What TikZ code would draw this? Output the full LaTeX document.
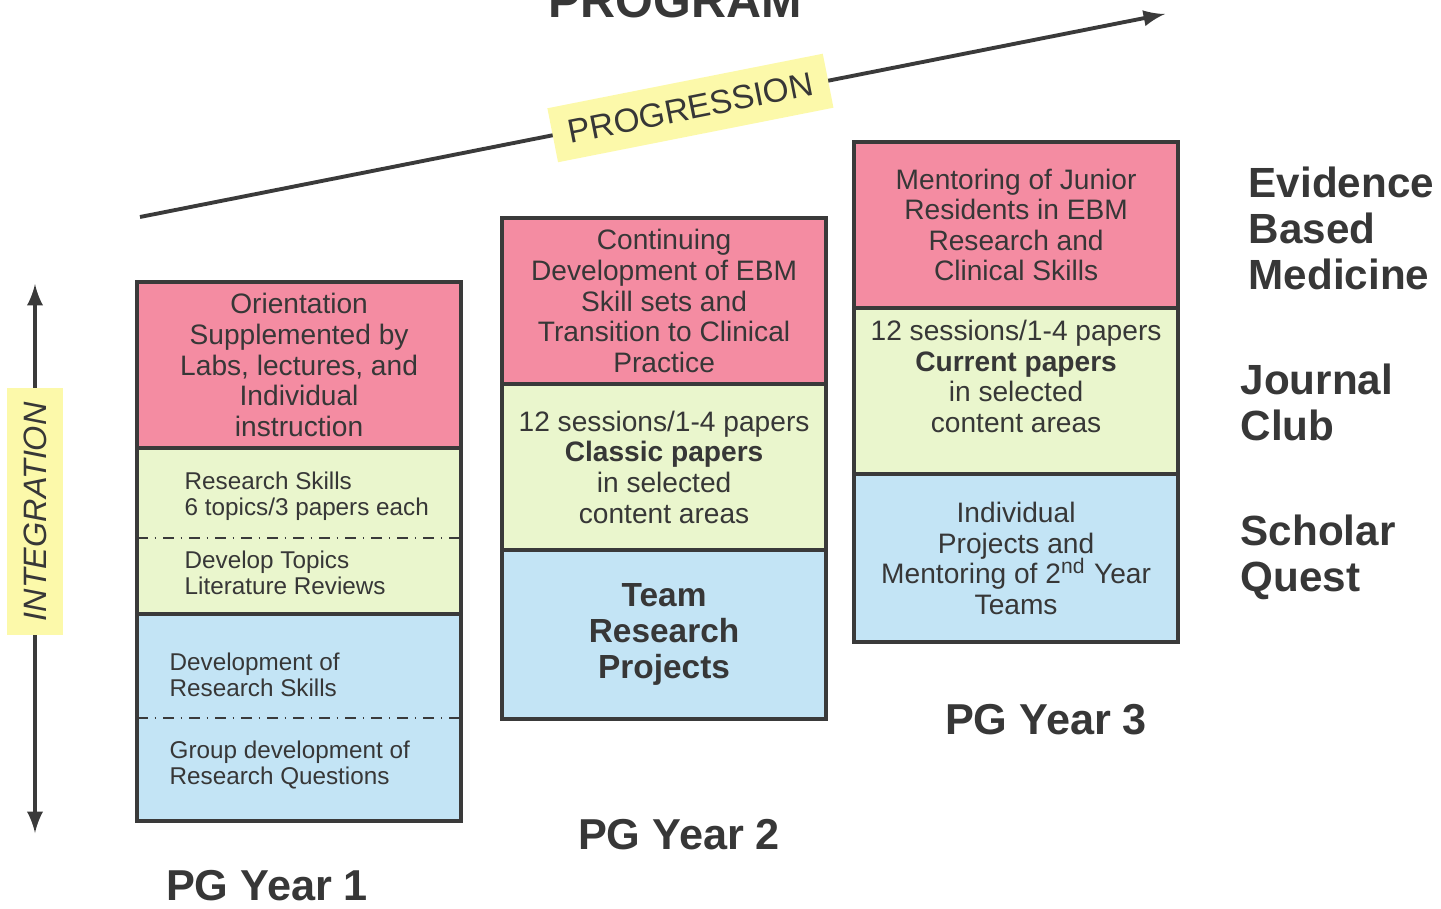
\documentclass[tikz,border=0pt]{standalone}
\usepackage{fontspec}
\setmainfont{Liberation Sans}
\usetikzlibrary{arrows.meta,positioning}
\tikzset{>=latex}
\definecolor{ebmpink}{RGB}{244,140,162}
\definecolor{jcgreen}{RGB}{234,246,205}
\definecolor{sqblue}{RGB}{195,228,245}
\definecolor{tagyellow}{RGB}{252,249,170}
\definecolor{framegray}{RGB}{58,58,58}
\definecolor{inkgray}{RGB}{55,55,55}

\begin{document}
\begin{tikzpicture}[x=0.01cm,y=-0.01cm,
    cell/.style={draw=framegray,line width=1.2pt,minimum width=3.24cm,minimum height=1.66cm,
      outer sep=0pt,inner sep=2pt,align=center,text=inkgray,font=\fontsize{8}{8.7}\selectfont},
    note/.style={anchor=west,align=left,inner sep=0pt,text=inkgray,font=\fontsize{6.9}{7.4}\selectfont},
    stream/.style={anchor=west,align=left,inner sep=0pt,text=inkgray,font=\bfseries\fontsize{12}{13.1}\selectfont},
    yearlbl/.style={inner sep=0pt,text=inkgray,font=\bfseries\fontsize{12.3}{14}\selectfont},
    tag/.style={fill=tagyellow,text=inkgray,inner xsep=0.16cm,minimum height=0.55cm}]
    \useasboundingbox (0,0) rectangle (1441,909);

    \node [anchor=base,inner sep=0pt,text=inkgray,font=\bfseries\fontsize{13.8}{15}\selectfont] (title) at (675,18) {PROGRAM};

    \coordinate (pstart) at (140,217);
    \coordinate (pend) at (1165,14);
    \draw [->,line width=1.1pt,draw=framegray] (pstart) -- (pend)
      node [tag,pos=0.537,sloped,font=\fontsize{9.5}{10}\selectfont] (progress) {PROGRESSION};

    \coordinate (ibot) at (35,833);
    \coordinate (itop) at (35,284);
    \draw [<->,line width=1.1pt,draw=framegray] (ibot) -- (itop)
      node [tag,pos=0.585,sloped,inner xsep=0.14cm,font=\itshape\fontsize{9.2}{10}\selectfont] (integ) {INTEGRATION};

    \node [cell,fill=ebmpink,anchor=north west] (ebm1) at (137,282) {Orientation\\Supplemented by\\Labs, lectures, and\\Individual\\instruction};
    \node [cell,fill=jcgreen,below=0pt of ebm1] (jc1) {};
    \node [cell,fill=sqblue,below=0pt of jc1,minimum height=2.07cm] (sq1) {};
    \draw [dashdotted,line width=0.6pt,draw=framegray] ([yshift=-0.065cm]jc1.west) -- ([yshift=-0.065cm]jc1.east);
    \draw [dashdotted,line width=0.6pt,draw=framegray] (sq1.west) -- (sq1.east);
    \node [note] (jc1a) at (184,496) {Research Skills\\6 topics/3 papers each};
    \node [note] (jc1b) at (184,573) {Develop Topics\\Literature Reviews};
    \node [note] (sq1a) at (169,675) {Development of\\Research Skills};
    \node [note] (sq1b) at (169,765) {Group development of\\Research Questions};

    \node [cell,fill=ebmpink,anchor=north west] (ebm2) at (502,218) {Continuing\\Development of EBM\\Skill sets and\\Transition to Clinical\\Practice};
    \node [cell,fill=jcgreen,below=0pt of ebm2] (jc2) {12 sessions/1-4 papers\\\textbf{Classic papers}\\in selected\\content areas};
    \node [cell,fill=sqblue,below=0pt of jc2,minimum height=1.69cm,font=\bfseries\fontsize{9.5}{10.3}\selectfont] (sq2) {Team\\Research\\Projects};

    \node [cell,fill=ebmpink,anchor=north west] (ebm3) at (854,142) {Mentoring of Junior\\Residents in EBM\\Research and\\Clinical Skills};
    \node [cell,fill=jcgreen,below=0pt of ebm3,text depth=0.3cm] (jc3) {12 sessions/1-4 papers\\\textbf{Current papers}\\in selected\\content areas};
    \node [cell,fill=sqblue,below=0pt of jc3,minimum height=1.68cm] (sq3) {Individual\\Projects and\\Mentoring of 2\smash{\textsuperscript{nd}} Year\\Teams};

    \node [stream] (ebm) at (1248,228) {Evidence\\Based\\Medicine};
    \node [stream] (jclub) at (1240,402) {Journal\\Club};
    \node [stream] (squest) at (1240,557) {Scholar\\Quest};

    \node [yearlbl] (year1) at (267,886) {PG Year 1};
    \node [yearlbl] (year2) at (679,835) {PG Year 2};
    \node [yearlbl] (year3) at (1046,720) {PG Year 3};
  \end{tikzpicture}
\end{document}
